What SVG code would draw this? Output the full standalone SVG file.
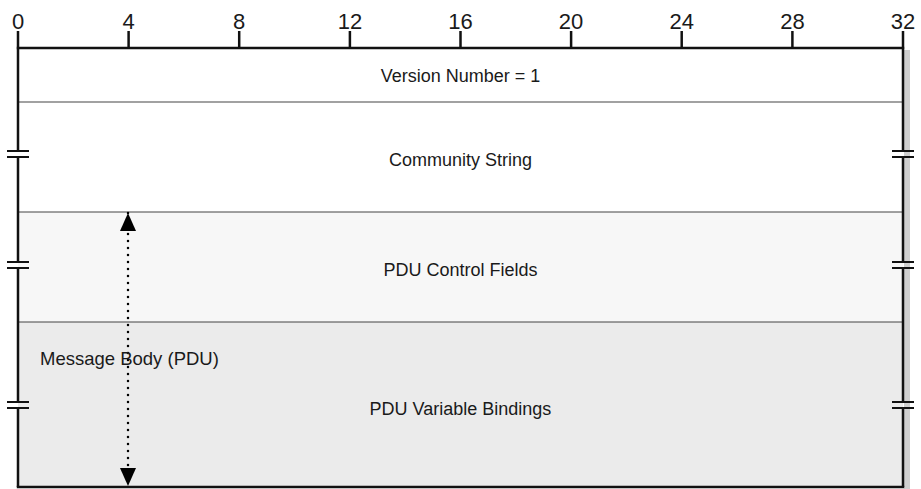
<svg xmlns="http://www.w3.org/2000/svg" width="921" height="489" viewBox="0 0 921 489">
<style>
.num{font-family:"Liberation Sans",Arial,sans-serif;font-size:22px;fill:#1a1a1a;text-anchor:middle}
.lbl{font-family:"Liberation Sans",Arial,sans-serif;font-size:18px;fill:#1a1a1a;text-anchor:middle}
.frame{stroke:#111;stroke-width:2.5;fill:none}
.sep{stroke:#444;stroke-width:1.2;fill:none}
.tick{stroke:#111;stroke-width:2.5}
.brk{stroke:#111;stroke-width:2}
</style>
<defs>
<marker id="ah" viewBox="0 0 18 16" refX="18" refY="8" markerWidth="18" markerHeight="16" markerUnits="userSpaceOnUse" orient="auto-start-reverse">
<path d="M0 0 L18 8 L0 16 Z" fill="#000"/>
</marker>
</defs>
<rect width="921" height="489" fill="#fff"/>
<rect x="904" y="50" width="6" height="439" fill="#cfcfcf"/>
<g id="ruler">
<text class="num" x="18" y="29">0</text>
<text class="num" x="128.6" y="29">4</text>
<text class="num" x="239.2" y="29">8</text>
<text class="num" x="349.9" y="29">12</text>
<text class="num" x="460.5" y="29">16</text>
<text class="num" x="571.1" y="29">20</text>
<text class="num" x="681.7" y="29">24</text>
<text class="num" x="792.4" y="29">28</text>
<text class="num" x="903" y="29">32</text>
<line class="tick" x1="128.6" y1="31" x2="128.6" y2="48"/>
<line class="tick" x1="239.2" y1="31" x2="239.2" y2="48"/>
<line class="tick" x1="349.9" y1="31" x2="349.9" y2="48"/>
<line class="tick" x1="460.5" y1="31" x2="460.5" y2="48"/>
<line class="tick" x1="571.1" y1="31" x2="571.1" y2="48"/>
<line class="tick" x1="681.7" y1="31" x2="681.7" y2="48"/>
<line class="tick" x1="792.4" y1="31" x2="792.4" y2="48"/>
</g>
<g id="version">
<rect x="18" y="48" width="885" height="54" fill="#fff"/>
<text class="lbl" x="460.5" y="82">Version Number = 1</text>
</g>
<g id="community">
<rect x="18" y="102" width="885" height="110" fill="#fff"/>
<text class="lbl" x="460.5" y="166">Community String</text>
</g>
<g id="control">
<rect x="18" y="212" width="885" height="110" fill="#f7f7f7"/>
<text class="lbl" x="460.5" y="276">PDU Control Fields</text>
</g>
<g id="bindings">
<rect x="18" y="322" width="885" height="165" fill="#ebebeb"/>
<text class="lbl" x="460.5" y="415">PDU Variable Bindings</text>
</g>
<g id="lines">
<line class="sep" x1="18" y1="102" x2="903" y2="102"/>
<line class="sep" x1="18" y1="212" x2="903" y2="212"/>
<line class="sep" x1="18" y1="322" x2="903" y2="322"/>
<line class="frame" x1="16.8" y1="48" x2="904.2" y2="48"/>
<line class="frame" x1="16.8" y1="487" x2="904.2" y2="487"/>
<path class="frame" d="M18 31 V151 M18 157 V262 M18 268 V402 M18 408 V487"/>
<path class="frame" d="M903 31 V151 M903 157 V262 M903 268 V402 M903 408 V487"/>
<path class="brk" d="M7 151 H29 M7 157 H29 M7 262 H29 M7 268 H29 M7 402 H29 M7 408 H29"/>
<path class="brk" d="M892 151 H914 M892 157 H914 M892 262 H914 M892 268 H914 M892 402 H914 M892 408 H914"/>
</g>
<g id="connectors">
<line x1="128" y1="213" x2="128" y2="486" stroke="#000" stroke-width="2.5" stroke-dasharray="0 7" stroke-linecap="round" marker-start="url(#ah)" marker-end="url(#ah)"/>
</g>
<g id="body">
<text x="40" y="365" font-family="Liberation Sans,Arial,sans-serif" font-size="18.5" fill="#1a1a1a">Message Body (PDU)</text>
</g>
</svg>
